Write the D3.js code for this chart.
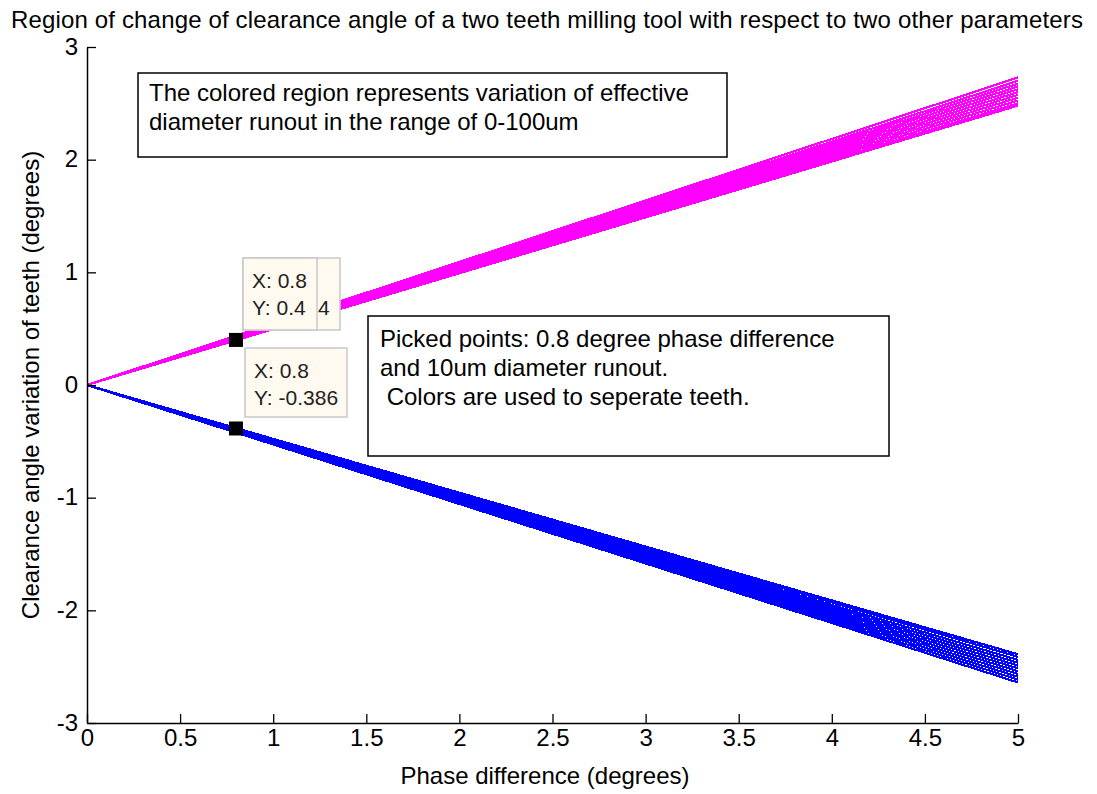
<!DOCTYPE html>
<html>
<head>
<meta charset="utf-8">
<script src="https://cdn.jsdelivr.net/npm/d3@7"></script>
<style>
  html, body { margin: 0; padding: 0; background: #fff; }
  svg { display: block; font-family: "Liberation Sans", Arial, sans-serif; }
</style>
</head>
<body>
<svg id="chart" width="1097" height="794"></svg>
<script>
// Effective diameter runout levels (um)
const runout = [0, 10, 20, 30, 40, 50, 60, 70, 80, 90, 100];
// Phase difference sample points (degrees)
const phase = [0, 5];
// Clearance angle variation at 5 degrees phase difference, tooth 1 (magenta) and tooth 2 (blue)
const tooth1End = [2.48, 2.50, 2.525, 2.55, 2.575, 2.60, 2.625, 2.65, 2.675, 2.70, 2.73];
const tooth2End = [-2.39, -2.4125, -2.44, -2.465, -2.49, -2.515, -2.54, -2.565, -2.59, -2.615, -2.64];
// Picked data tips
const tipX = [0.8, 0.8];
const tipY = [0.4, -0.386];
const xTicks = [0, 0.5, 1, 1.5, 2, 2.5, 3, 3.5, 4, 4.5, 5];
const yTicks = [-3, -2, -1, 0, 1, 2, 3];

const svg = d3.select("#chart");
const margin = { left: 87, right: 79, top: 47, bottom: 71 };
const W = 1097, H = 794;
const FS = 24;

const x = d3.scaleLinear().domain([0, 5]).range([margin.left, W - margin.right]);
const y = d3.scaleLinear().domain([-3, 3]).range([H - margin.bottom, margin.top]);

// Title
svg.append("text")
  .attr("x", 547).attr("y", 28)
  .attr("text-anchor", "middle")
  .attr("font-size", FS)
  .attr("textLength", 1072)
  .text("Region of change of clearance angle of a two teeth milling tool with respect to two other parameters");

// Line families, one path per runout level
const line = d3.line().x(d => x(d[0])).y(d => y(d[1]));
function family(ends, color) {
  const g = svg.append("g");
  ends.forEach(v => {
    const pts = phase.map(p => [p, v * p / phase[phase.length - 1]]);
    g.append("path")
      .attr("d", line(pts))
      .attr("fill", "none")
      .attr("stroke", color)
      .attr("stroke-width", 2.2)
      .attr("shape-rendering", "crispEdges");
  });
}
family(tooth1End, "#ff00ff");
family(tooth2End, "#0000ff");

// Axes (ticks pointing inward)
const fmt = d => String(d);
const xAxis = d3.axisBottom(x).tickValues(xTicks).tickSizeInner(-9).tickSizeOuter(0)
  .tickPadding(6).tickFormat(fmt);
const yAxis = d3.axisLeft(y).tickValues(yTicks).tickSizeInner(-9).tickSizeOuter(0)
  .tickPadding(9).tickFormat(fmt);

const gx = svg.append("g").attr("transform", `translate(0,${y(-3)})`).call(xAxis);
const gy = svg.append("g").attr("transform", `translate(${x(0)},0)`).call(yAxis);
[gx, gy].forEach(g => {
  g.select(".domain").attr("stroke", "#000").attr("stroke-width", 1.5);
  g.selectAll(".tick line").attr("stroke", "#000").attr("stroke-width", 1.3);
  g.selectAll(".tick text").attr("fill", "#000").attr("font-size", FS)
    .attr("font-family", "Liberation Sans, Arial, sans-serif");
});
gx.selectAll(".tick text").attr("dy", "0.72em");
gy.selectAll(".tick text").attr("dy", "0.3em");

// Axis titles
svg.append("text")
  .attr("x", 545).attr("y", 784)
  .attr("text-anchor", "middle").attr("font-size", FS)
  .text("Phase difference (degrees)");
svg.append("text")
  .attr("transform", `translate(39,${(y(3) + y(-3)) / 2}) rotate(-90)`)
  .attr("text-anchor", "middle").attr("font-size", FS)
  .text("Clearance angle variation of teeth (degrees)");

// Annotation boxes
function noteBox(x0, y0, w, h, lines, pad, lh, firstBase) {
  const g = svg.append("g");
  g.append("rect").attr("x", x0).attr("y", y0).attr("width", w).attr("height", h)
    .attr("fill", "#fff").attr("stroke", "#000").attr("stroke-width", 1.5);
  lines.forEach((t, i) => {
    g.append("text").attr("x", x0 + pad).attr("y", y0 + firstBase + i * lh)
      .attr("font-size", FS).attr("xml:space", "preserve").style("white-space", "pre").text(t);
  });
}
noteBox(138, 73, 589, 84, [
  "The colored region represents variation of effective",
  "diameter runout in the range of 0-100um"
], 11, 29, 28);
noteBox(368, 316, 521, 140, [
  "Picked points: 0.8 degree phase difference",
  "and 10um diameter runout.",
  " Colors are used to seperate teeth."
], 12, 29, 31);

// Data tips
function tip(x0, y0, w, h, lines, tx) {
  const g = svg.append("g");
  g.append("rect").attr("x", x0).attr("y", y0).attr("width", w).attr("height", h)
    .attr("fill", "#fffaf0").attr("stroke", "#c8c8c8").attr("stroke-width", 1.5);
  lines.forEach((t, i) => {
    if (!t) return;
    g.append("text").attr("x", x0 + (tx || 9)).attr("y", y0 + 30 + i * 27)
      .attr("font-size", 21).attr("fill", "#222").text(t);
  });
}
// Tip lying underneath: only the trailing digit shows past the front tip
tip(243, 258, 97, 72, ["", "4"], 75);
tip(243, 258, 74, 72, ["X: " + tipX[0], "Y: " + tipY[0]]);
tip(245, 348, 102, 69, ["X: " + tipX[1], "Y: " + tipY[1]]);

svg.selectAll(".marker").data(tipX.map((v, i) => [v, tipY[i]])).enter()
  .append("rect").attr("class", "marker")
  .attr("x", d => x(d[0]) - 7).attr("y", d => y(d[1]) - 7)
  .attr("width", 14).attr("height", 14).attr("fill", "#000");
</script>
</body>
</html>
